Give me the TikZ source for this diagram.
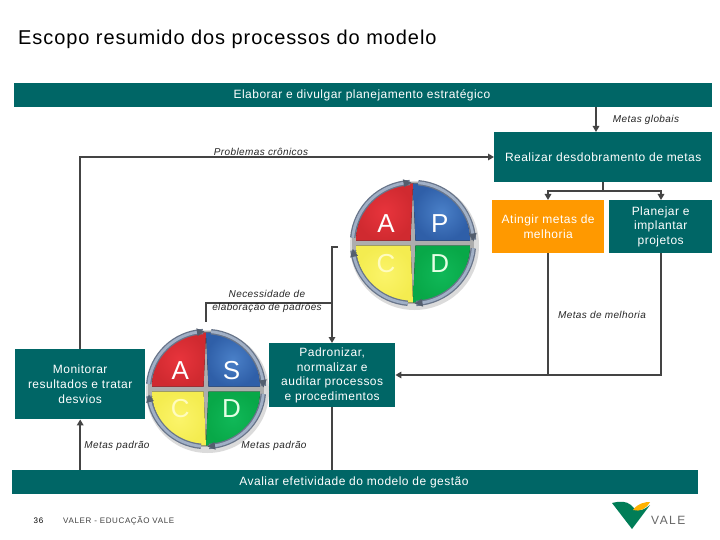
\documentclass[tikz,border=0pt]{standalone}
\usepackage{fontspec}
\setmainfont{Liberation Sans}
\usetikzlibrary{arrows.meta,calc}
\definecolor{valeteal}{HTML}{006666}
\definecolor{linegray}{HTML}{444444}
\definecolor{orangebox}{HTML}{FF9900}
\definecolor{rimblue}{HTML}{8A9CB8}
\definecolor{wred}{HTML}{E8343C}
\definecolor{wredd}{HTML}{D02A30}
\definecolor{wblue}{HTML}{4A80C8}
\definecolor{wblued}{HTML}{2F5FA8}
\definecolor{wyel}{HTML}{FBF46A}
\definecolor{wyeld}{HTML}{F4EC50}
\definecolor{wgreen}{HTML}{10B858}
\definecolor{wgreend}{HTML}{08A848}
\newcommand{\wheel}[5]{% x,y,R,top-right letter,name
 \begin{scope}[shift={(#1,#2)}]
  \fill[black!14] (1.5,2.5) circle (#3+.5);
  \fill[black!32] (0,0) circle (#3-3);
  \fill[inner color=wred,outer color=wredd] (-2.5,-2.5) -- (-#3+7,-2.5) arc[start angle=180,end angle=270,radius=#3-7] -- cycle;
  \fill[inner color=wblue,outer color=wblued] (2.5,-2.5) -- (#3-7,-2.5) arc[start angle=0,end angle=-90,radius=#3-7] -- cycle;
  \fill[inner color=wyel,outer color=wyeld] (-2.5,2.5) -- (-#3+7,2.5) arc[start angle=180,end angle=90,radius=#3-7] -- cycle;
  \fill[inner color=wgreen,outer color=wgreend] (2.5,2.5) -- (#3-7,2.5) arc[start angle=0,end angle=90,radius=#3-7] -- cycle;
  \foreach \a/\b in {-175/-93,-85/-3,5/87,95/173}{
   \draw[rimblue!75!black,line width=5.4pt] (\a:#3-3.5) arc[start angle=\a,end angle=\b,radius=#3-3.5];
   \draw[rimblue!80!white,line width=2.8pt] (\a:#3-3.5) arc[start angle=\a,end angle=\b,radius=#3-3.5];
   \fill[rimblue!60!black] (\b-6:#3+.5) -- (\b+1.5:#3-3.5) -- (\b-6:#3-7.5) -- cycle;
  }
  \node[wheelletter] (#5a) at (-.42*#3,-.3*#3) {A};
  \node[wheelletter] (#5p) at (.42*#3,-.3*#3) {#4};
  \node[wheelletter,text=yellow!25!white] (#5c) at (-.42*#3,.32*#3) {C};
  \node[wheelletter,text=green!10!white] (#5d) at (.42*#3,.32*#3) {D};
 \end{scope}
}
\tikzset{
 x=1pt,y=-1pt,
 tealbox/.style={fill=valeteal,text=white,inner sep=0pt,align=center,font=\fontsize{12}{14.6}\selectfont\addfontfeatures{LetterSpace=4},anchor=north west},
 orangecell/.style={tealbox,fill=orangebox},
 flow/.style={draw=linegray,line width=1.8pt},
 flowarrow/.style={flow,-{Triangle[length=6pt,width=6.5pt]}},
 note/.style={font=\fontsize{10}{12.5}\selectfont\itshape\addfontfeatures{LetterSpace=4},text=black!85,inner sep=0pt,align=center},
 wheelletter/.style={font=\fontsize{26}{26}\selectfont,text=white,inner sep=0pt},
}
\begin{document}
\begin{tikzpicture}
\useasboundingbox (0,0) rectangle (720,540);
\fill[white] (0,0) rectangle (720,540);
\node[anchor=west,inner sep=0pt,font=\fontsize{20}{22}\selectfont\addfontfeatures{LetterSpace=4.6}] (title) at (18,39.5) {Escopo resumido dos processos do modelo};

\node[tealbox,minimum width=698pt,minimum height=24pt] (plan) at (14,83) {};
\node[text=white,inner sep=0pt,font=\fontsize{12}{14}\selectfont\addfontfeatures{LetterSpace=4}] (planlabel) at (362,95) {Elaborar e divulgar planejamento estratégico};
\node[tealbox,minimum width=218pt,minimum height=50pt] (real) at (494,132) {Realizar desdobramento de metas};
\node[orangecell,minimum width=112pt,minimum height=53pt] (ating) at (492,200) {Atingir metas de\\melhoria};
\node[tealbox,minimum width=103pt,minimum height=53pt] (proj) at (609,200) {Planejar e\\implantar\\projetos};
\node[tealbox,minimum width=126pt,minimum height=64pt] (padr) at (269,343) {Padronizar,\\normalizar e\\auditar processos\\e procedimentos};
\node[tealbox,minimum width=130pt,minimum height=70pt] (moni) at (15,349) {Monitorar\\resultados e tratar\\desvios};
\node[tealbox,minimum width=686pt,minimum height=24pt] (aval) at (12,470) {};
\node[text=white,inner sep=0pt,font=\fontsize{12}{14}\selectfont\addfontfeatures{LetterSpace=4}] (avallabel) at (354,482) {Avaliar efetividade do modelo de gestão};

\coordinate (globaltop) at (596,107);
\coordinate (globalend) at (596,132);
\coordinate (split) at (603,191);
\coordinate (splitl) at (548,191);
\coordinate (splitr) at (661,191);
\coordinate (crono) at (80,157);
\coordinate (stub) at (338,247);
\coordinate (stubc) at (332,247);
\coordinate (need) at (332,303);
\coordinate (needl) at (206,303);
\coordinate (needend) at (206,322);
\coordinate (merge) at (661,375);
\coordinate (mergel) at (548,375);

\wheel{413}{243}{64}{P}{up}
\wheel{206}{389}{61}{S}{lo}

\draw[flowarrow] (globaltop) -- (globalend);
\draw[flowarrow] (moni.north -| crono) -- (crono) -- (real.west |- crono);
\draw[flow] (real.south -| split) -- (split);
\draw[flowarrow] (split) -- (splitl) -- (ating.north -| splitl);
\draw[flowarrow] (split) -- (splitr) -- (proj.north -| splitr);
\draw[flow] (ating.south -| mergel) -- (mergel);
\draw[flowarrow] (proj.south -| merge) -- (merge) -- (padr.east |- merge);
\draw[flowarrow] (stub) -- (stubc) -- (padr.north -| stubc);
\draw[flow] (need) -- (needl) -- (needend);
\draw[flow] (padr.south -| stubc) -- (aval.north -| stubc);
\draw[flowarrow] (aval.north -| moni.south) -- (moni.south);

\node[note] (nglob) at (646,120) {Metas globais};
\node[note] (ncron) at (261,151.5) {Problemas crônicos};
\node[note] (nneed) at (267,301.5) {Necessidade de\\elaboração de padrões};
\node[note] (nmelh) at (602,315) {Metas de melhoria};
\node[note] (npadl) at (117,446) {Metas padrão};
\node[note] (npadr) at (274,446) {Metas padrão};

\node[inner sep=0pt,font=\fontsize{8}{10}\selectfont\addfontfeatures{LetterSpace=8}] (pagen) at (38.5,521) {36};
\node[anchor=west,inner sep=0pt,font=\fontsize{8}{10}\selectfont\addfontfeatures{LetterSpace=8},text=black!75] (foot) at (63,521) {VALER - EDUCAÇÃO VALE};

\fill[valeteal!85!green] (612,503) .. controls (620,501) and (626,501) .. (631,505) .. controls (636,511) and (640,513) .. (650,505) -- (632,529) -- cycle;
\fill[orange!60!yellow] (633,510) .. controls (638,503) and (645,502) .. (650,502) .. controls (646,509) and (640,512) .. (633,510) -- cycle;
\node[anchor=west,inner sep=0pt,font=\fontsize{12}{14}\selectfont\addfontfeatures{LetterSpace=12},text=black!60] (logo) at (651,520.5) {VALE};
\end{tikzpicture}
\end{document}
